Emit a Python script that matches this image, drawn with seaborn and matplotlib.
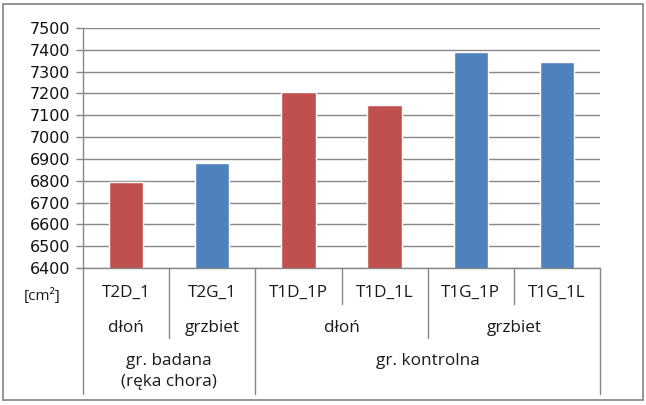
import matplotlib
matplotlib.use('Agg')
import matplotlib.pyplot as plt
import seaborn as sns
import pandas as pd
from matplotlib.patches import Rectangle

# ---- data ----
categories = ['T2D_1', 'T2G_1', 'T1D_1P', 'T1D_1L', 'T1G_1P', 'T1G_1L']
values = [6796, 6882, 7208, 7146, 7388, 7342]
side = ['dłoń', 'grzbiet', 'dłoń', 'dłoń', 'grzbiet', 'grzbiet']
group = ['gr. badana\n(ręka chora)'] * 2 + ['gr. kontrolna'] * 4
unit_label = '[cm²]'
yticks = list(range(6400, 7501, 100))

RED = '#C0504D'
BLUE = '#4F81BD'
GRID = '#878787'
colors = [RED if s == 'dłoń' else BLUE for s in side]

sns.set_theme(style='white')
plt.rcParams['font.family'] = ['DejaVu Sans']

W, H = 646, 405
fig = plt.figure(figsize=(W / 100, H / 100), dpi=100)
L, R, T, B = 83, 600, 28, 268
ax = fig.add_axes([L / W, 1 - B / H, (R - L) / W, (B - T) / H])

df = pd.DataFrame({'cat': categories, 'val': values})
sns.barplot(data=df, x='cat', y='val', hue='cat', palette=colors, legend=False,
            width=0.4, saturation=1, ax=ax)

ax.set_ylim(6400, 7500)
ax.set_xlim(-0.5, len(categories) - 0.5)
ax.set_yticks(yticks)
ax.set_yticklabels([str(v) for v in yticks], fontsize=11.5, color='#111111')
ax.yaxis.grid(True, color=GRID, lw=1)
ax.xaxis.grid(False)
ax.set_axisbelow(True)
ax.set_xlabel('')
ax.set_ylabel('')
ax.set_xticks([])
for s in ['top', 'right']:
    ax.spines[s].set_visible(False)
for s in ['left', 'bottom']:
    ax.spines[s].set_color(GRID)
    ax.spines[s].set_linewidth(1)
ax.tick_params(axis='y', left=True, length=5, width=1, color=GRID, pad=4)

trans = ax.get_xaxis_transform()
def yf(py):
    return (B - py) / (B - T)

cat_font = dict(family=['Open Sans', 'DejaVu Sans'], fontsize=12.3, color='#1a1a1a')

# divider lines
n = len(categories)
y_full, y_side, y_cat = 394, 338, 304
for xb, yend in [(-0.5, y_full), (n - 0.5, y_full)]:
    ax.plot([xb, xb], [yf(B), yf(yend)], transform=trans, color=GRID, lw=1, clip_on=False)
for i in range(n - 1):
    if group[i] != group[i + 1]:
        yend = y_full
    elif side[i] != side[i + 1]:
        yend = y_side
    else:
        yend = y_cat
    ax.plot([i + 0.5, i + 0.5], [yf(B), yf(yend)], transform=trans, color=GRID, lw=1, clip_on=False)

# level 1 labels
for i, c in enumerate(categories):
    ax.text(i, yf(293), c, transform=trans, ha='center', va='center', **cat_font)

def runs(labels, keys):
    out = []
    start = 0
    for i in range(1, len(labels) + 1):
        if i == len(labels) or keys[i] != keys[start]:
            out.append((labels[start], (start + i - 1) / 2))
            start = i
    return out

side_keys = [g + '|' + s for g, s in zip(group, side)]
for lab, xc in runs(side, side_keys):
    ax.text(xc, yf(327.5), lab, transform=trans, ha='center', va='center', **cat_font)
for lab, xc in runs(group, group):
    for k, ln in enumerate(lab.split('\n')):
        ax.text(xc, yf(361 + 21 * k), ln, transform=trans, ha='center', va='center', **cat_font)

fig.text(42 / W, 1 - 296 / H, unit_label, ha='center', va='center',
         family=['Open Sans', 'DejaVu Sans'], fontsize=11, color='#1a1a1a')

# outer frame
fig.patches.append(Rectangle((3 / W, 5 / H), 640 / W, 396 / H, transform=fig.transFigure,
                             fill=False, edgecolor='#8c8c8c', lw=1.3))

fig.savefig('out.png', dpi=100)
